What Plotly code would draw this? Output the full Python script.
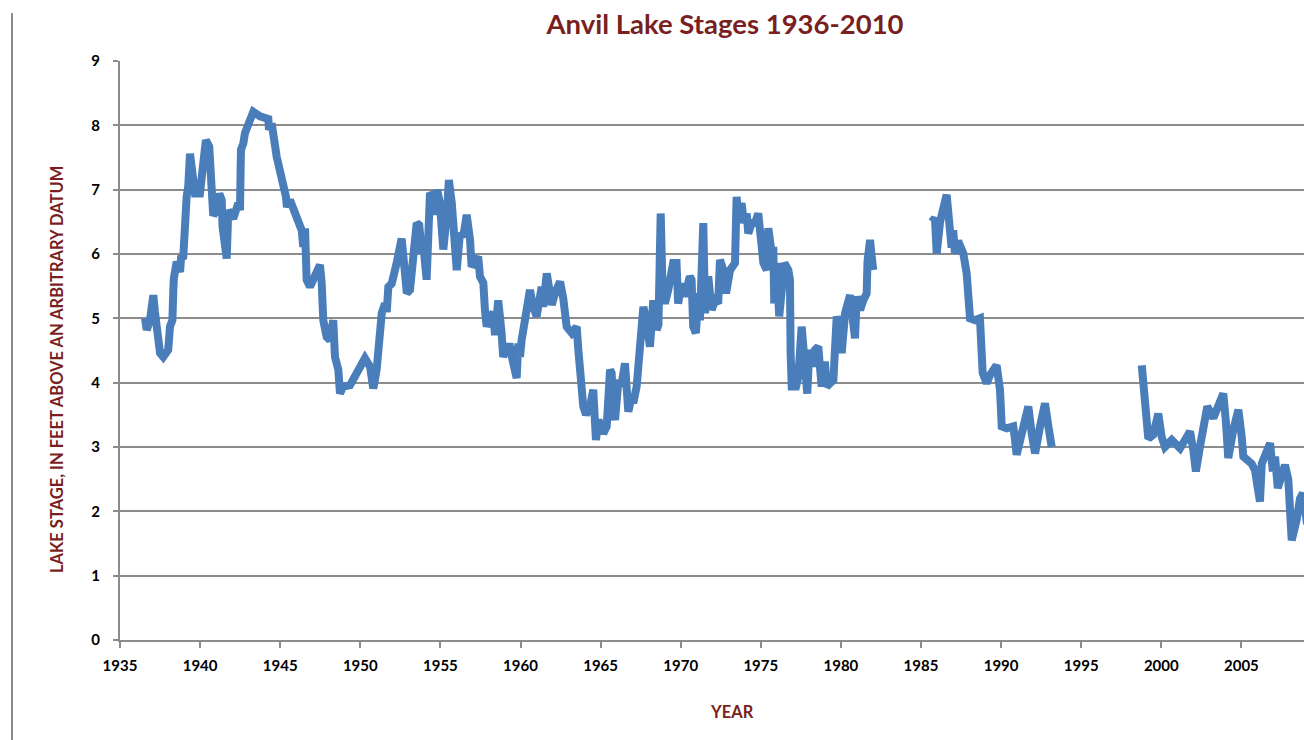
import plotly.graph_objects as go

# Anvil Lake stage record, three observation periods (None = no record)
years = [
    1936.56, 1936.67, 1936.87, 1937.08, 1937.18, 1937.50, 1937.70, 1938.01, 1938.12,
    1938.27, 1938.33, 1938.36, 1938.54, 1938.75, 1938.81, 1938.95, 1939.16, 1939.26,
    1939.37, 1939.48, 1939.68, 1939.99, 1940.20, 1940.36, 1940.57, 1940.72, 1940.82,
    1941.04, 1941.20, 1941.35, 1941.40, 1941.66, 1941.76, 1942.07, 1942.38, 1942.49,
    1942.55, 1942.70, 1942.80, 1943.32, 1943.74, 1944.26, 1944.30, 1944.47, 1944.78,
    1945.36, 1945.42, 1945.61, 1946.34, 1946.44, 1946.55, 1946.65, 1946.86, 1947.48,
    1947.59, 1947.69, 1947.90, 1948.11, 1948.31, 1948.42, 1948.63, 1948.73, 1948.94,
    1949.36, 1950.29, 1950.61, 1950.81, 1951.02, 1951.23, 1951.34, 1951.54, 1951.65,
    1951.75, 1951.96, 1952.27, 1952.48, 1952.58, 1952.79, 1952.90, 1953.10, 1953.31,
    1953.52, 1953.68, 1953.83, 1953.93, 1954.14, 1954.35, 1954.55, 1954.66, 1954.80,
    1954.97, 1955.18, 1955.39, 1955.53, 1955.71, 1955.91, 1956.02, 1956.22, 1956.43,
    1956.64, 1956.85, 1956.95, 1957.36, 1957.47, 1957.68, 1957.78, 1957.89, 1958.10,
    1958.30, 1958.41, 1958.61, 1958.82, 1958.92, 1959.13, 1959.34, 1959.55, 1959.76,
    1959.86, 1959.97, 1960.07, 1960.59, 1960.79, 1961.01, 1961.32, 1961.42, 1961.64,
    1961.84, 1961.95, 1962.15, 1962.47, 1962.67, 1962.88, 1963.20, 1963.51, 1963.61,
    1963.71, 1963.92, 1964.09, 1964.34, 1964.54, 1964.65, 1964.71, 1964.86, 1965.07,
    1965.17, 1965.38, 1965.59, 1965.69, 1965.79, 1965.90, 1966.10, 1966.32, 1966.52,
    1966.63, 1966.73, 1966.94, 1967.04, 1967.25, 1967.46, 1967.67, 1967.88, 1968.08,
    1968.29, 1968.50, 1968.61, 1968.75, 1968.87, 1969.01, 1969.22, 1969.53, 1969.74,
    1969.84, 1970.05, 1970.26, 1970.57, 1970.68, 1970.78, 1970.95, 1971.10, 1971.20,
    1971.41, 1971.52, 1971.72, 1971.93, 1972.14, 1972.34, 1972.45, 1972.66, 1972.83,
    1973.08, 1973.39, 1973.49, 1973.59, 1973.80, 1973.95, 1974.12, 1974.22, 1974.43,
    1974.64, 1974.84, 1975.06, 1975.16, 1975.37, 1975.47, 1975.68, 1975.78, 1975.84,
    1975.99, 1976.15, 1976.30, 1976.47, 1976.72, 1976.82, 1976.86, 1976.93, 1977.20,
    1977.34, 1977.55, 1977.76, 1977.90, 1978.03, 1978.24, 1978.38, 1978.59, 1978.69,
    1978.80, 1979.00, 1979.11, 1979.32, 1979.53, 1979.74, 1979.94, 1980.05, 1980.26,
    1980.57, 1980.77, 1980.88, 1980.99, 1981.20, 1981.40, 1981.61, 1981.66, 1981.82,
    1981.92, 1982.02,
    None,
    1985.67, 1985.87, 1985.98, 1986.19, 1986.60, 1986.81, 1986.91, 1987.01, 1987.12,
    1987.32, 1987.64, 1987.85, 1987.95, 1988.06, 1988.37, 1988.68, 1988.85, 1989.10,
    1989.31, 1989.72, 1989.93, 1990.04, 1990.35, 1990.76, 1990.87, 1990.97, 1991.29,
    1991.70, 1991.91, 1992.12, 1992.43, 1992.74, 1992.95, 1993.16,
    None,
    1998.78, 1998.99, 1999.19, 1999.50, 1999.81, 2000.02, 2000.23, 2000.65, 2000.91,
    2001.17, 2001.48, 2001.79, 2002.00, 2002.16, 2002.41, 2002.62, 2002.87, 2003.25,
    2003.56, 2003.87, 2004.04, 2004.18, 2004.49, 2004.81, 2005.02, 2005.12, 2005.64,
    2005.85, 2005.99, 2006.16, 2006.27, 2006.52, 2006.79, 2006.96, 2007.10, 2007.27,
    2007.52, 2007.72, 2007.93, 2008.03, 2008.14, 2008.45, 2008.66, 2008.84, 2009.10,
]

stages = [
    5.00, 4.82, 4.97, 5.36, 5.10, 4.46, 4.40, 4.51, 4.87,
    4.97, 5.45, 5.62, 5.88, 5.72, 5.94, 5.96, 6.89, 7.05,
    7.56, 7.30, 6.94, 6.94, 7.40, 7.77, 7.67, 7.20, 6.60,
    6.68, 6.94, 6.84, 6.43, 5.93, 6.68, 6.55, 6.79, 6.68,
    7.62, 7.72, 7.88, 8.21, 8.14, 8.10, 7.93, 8.03, 7.51,
    6.89, 6.73, 6.84, 6.37, 6.11, 6.40, 5.60, 5.49, 5.83,
    5.55, 4.97, 4.71, 4.66, 4.97, 4.40, 4.20, 3.83, 3.94,
    3.96, 4.38, 4.25, 3.91, 4.20, 4.66, 5.08, 5.23, 5.10,
    5.49, 5.54, 5.86, 6.07, 6.24, 5.70, 5.39, 5.44, 5.86,
    6.48, 6.45, 6.01, 6.16, 5.60, 6.95, 6.89, 6.61, 7.00,
    6.79, 6.07, 6.58, 7.15, 6.79, 6.16, 5.75, 6.32, 6.27,
    6.61, 6.22, 5.80, 5.96, 5.65, 5.55, 5.13, 4.87, 5.03,
    5.08, 4.74, 5.28, 4.77, 4.40, 4.56, 4.56, 4.30, 4.07,
    4.61, 4.40, 4.66, 5.44, 5.18, 5.03, 5.49, 5.18, 5.70,
    5.28, 5.21, 5.39, 5.57, 5.31, 4.87, 4.77, 4.87, 4.51,
    4.15, 3.63, 3.50, 3.63, 3.89, 3.52, 3.11, 3.42, 3.32,
    3.21, 3.32, 4.20, 4.15, 3.58, 3.42, 3.99, 3.99, 4.30,
    4.04, 3.55, 3.78, 3.68, 3.94, 4.66, 5.18, 4.92, 4.56,
    5.28, 4.82, 4.90, 6.63, 5.44, 5.23, 5.44, 5.86, 5.86,
    5.23, 5.54, 5.34, 5.65, 5.60, 4.87, 4.77, 5.39, 4.97,
    6.48, 5.08, 5.65, 5.13, 5.28, 5.23, 5.91, 5.75, 5.39,
    5.75, 5.86, 6.89, 6.58, 6.79, 6.48, 6.63, 6.32, 6.48,
    6.48, 6.63, 6.11, 5.86, 5.75, 6.40, 6.01, 6.11, 5.23,
    5.86, 5.03, 5.54, 5.86, 5.75, 5.60, 4.46, 3.94, 3.94,
    4.09, 4.87, 4.15, 3.83, 4.51, 4.25, 4.51, 4.56, 4.25,
    3.94, 4.33, 3.94, 3.99, 4.04, 5.03, 4.82, 4.46, 5.08,
    5.36, 4.77, 4.69, 5.34, 5.13, 5.28, 5.39, 5.88, 6.22,
    5.96, 5.75,
    None,
    6.50, 6.56, 6.01, 6.50, 6.92, 6.35, 6.10, 6.37, 6.01,
    6.20, 6.01, 5.70, 5.08, 5.00, 4.97, 5.00, 4.15, 3.99,
    4.12, 4.27, 3.89, 3.32, 3.29, 3.32, 3.11, 2.88, 3.21,
    3.63, 3.21, 2.90, 3.32, 3.68, 3.32, 3.00,
    None,
    4.27, 3.63, 3.13, 3.19, 3.52, 3.16, 3.00, 3.11, 3.05,
    2.98, 3.11, 3.24, 2.95, 2.62, 3.00, 3.37, 3.63, 3.45,
    3.65, 3.83, 3.37, 2.83, 3.26, 3.58, 3.16, 2.85, 2.74,
    2.64, 2.41, 2.15, 2.74, 2.90, 3.06, 2.62, 2.85, 2.36,
    2.59, 2.72, 2.49, 2.02, 1.55, 1.87, 2.20, 2.28, 1.80,
]

x_ticks = [1935, 1940, 1945, 1950, 1955, 1960, 1965, 1970, 1975, 1980, 1985, 1990, 1995, 2000, 2005]
y_ticks = [0, 1, 2, 3, 4, 5, 6, 7, 8, 9]

TITLE_RED = "#7a1f1f"
GRID = "#8c8c8c"
FONT = "Lato"

fig = go.Figure()
fig.add_trace(go.Scatter(
    x=years, y=stages, mode="lines",
    line=dict(color="#4a7ebb", width=8),
    connectgaps=False, hoverinfo="skip", showlegend=False,
))

fig.update_layout(
    width=1304, height=740, autosize=False,
    margin=dict(l=120, r=0, t=61, b=100, pad=0),
    paper_bgcolor="white", plot_bgcolor="white",
    font=dict(family=FONT, color="black"),
    title=dict(
        text="Anvil Lake Stages 1936-2010",
        font=dict(family=FONT, size=27.5, color=TITLE_RED, weight="bold"),
        x=725 / 1304, xanchor="center", xref="container",
        y=1 - 24 / 740, yanchor="middle", yref="container",
    ),
    xaxis=dict(
        range=[1935, 1935 + 1184 / 16.02],
        tickmode="array", tickvals=x_ticks, ticktext=[str(v) for v in x_ticks],
        showgrid=False, zeroline=False,
        showline=True, linecolor=GRID, linewidth=2,
        ticks="outside", ticklen=6, tickwidth=2, tickcolor=GRID,
        tickfont=dict(family=FONT, size=15, color="black", weight="bold"),
        ticklabelstandoff=5,
    ),
    yaxis=dict(
        range=[0, 9],
        tickmode="array", tickvals=y_ticks, ticktext=[str(v) for v in y_ticks],
        showgrid=True, gridcolor=GRID, gridwidth=2, zeroline=False,
        showline=True, linecolor=GRID, linewidth=2,
        ticks="outside", ticklen=5, tickwidth=2, tickcolor=GRID,
        tickfont=dict(family=FONT, size=15, color="black", weight="bold"),
        ticklabelstandoff=10,
    ),
)

# axis titles
fig.add_annotation(
    text="LAKE STAGE, IN FEET ABOVE AN ARBITRARY DATUM",
    xref="paper", yref="paper",
    x=(57 - 120) / 1184, y=(640 - 370) / 579,
    xanchor="center", yanchor="middle", textangle=-90, showarrow=False,
    font=dict(family=FONT, size=16.5, color=TITLE_RED, weight="bold"),
)
fig.add_annotation(
    text="YEAR",
    xref="paper", yref="paper",
    x=(732 - 120) / 1184, y=(640 - 712) / 579,
    xanchor="center", yanchor="middle", showarrow=False,
    font=dict(family=FONT, size=16.5, color=TITLE_RED, weight="bold"),
)

# left border of the chart frame
fig.add_shape(
    type="line", xref="paper", yref="paper",
    x0=(12 - 120) / 1184, x1=(12 - 120) / 1184,
    y0=(640 - 745) / 579, y1=(640 - 13) / 579,
    line=dict(color=GRID, width=2),
)

fig.write_html("out.html")
